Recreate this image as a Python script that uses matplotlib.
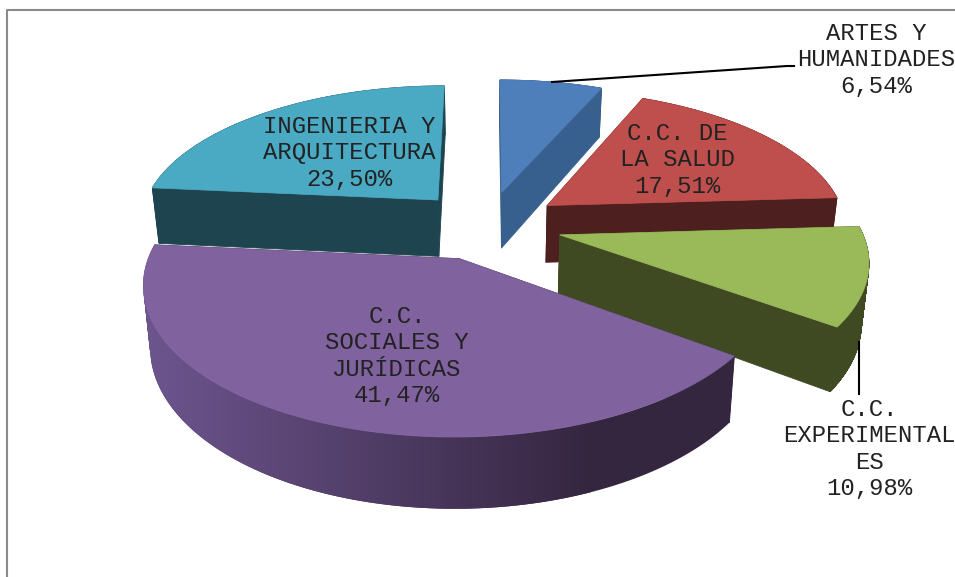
import numpy as np
import matplotlib
matplotlib.use('Agg')
import matplotlib.pyplot as plt
from matplotlib.colors import LinearSegmentedColormap
from matplotlib.patches import PathPatch
from matplotlib.path import Path

# order is clockwise from 12 o'clock, like the original pie
names = ['ARTES Y\nHUMANIDADES', 'C.C. DE\nLA SALUD', 'C.C.\nEXPERIMENTAL\nES',
         'C.C.\nSOCIALES Y\nJURÍDICAS', 'INGENIERIA Y\nARQUITECTURA']
values = [6.54, 17.51, 10.98, 41.47, 23.50]
pct_labels = ['6,54%', '17,51%', '10,98%', '41,47%', '23,50%']
top_colors = ['#4F7FBB', '#BE4F4C', '#9ABA59', '#7F629E', '#4AA9C3']
side_colors = ['#38608E', '#4E1F1F', '#404A22', '#352640', '#1E4450']
label_pos = [(876, 60), (677, 160), (869, 449), (397, 356), (349, 153)]

# camera guess for the fake 3d pie
cx, cy = 487, 225
rx, ry = 300, 139
persp = 0.155
depth = 58
explode = 0.25


def project(x, y, z=0.0):
    w = 1 + persp * y
    sx = cx + rx * x / w * (1 - 0.02 * z)
    sy = cy + (-ry * y + depth * z) / w
    return sx, sy


def rim_path(ex, ey):
    # one quad per step, all wound the same way so the overlaps don't cancel
    ux, uy = project(ex, ey)
    lx, ly = project(ex, ey, 1)
    quads = []
    for k in range(len(ex) - 1):
        q = np.array([[ux[k], uy[k]], [ux[k + 1], uy[k + 1]], [lx[k + 1], ly[k + 1]], [lx[k], ly[k]]])
        area = np.sum(q[:, 0] * np.roll(q[:, 1], -1) - np.roll(q[:, 0], -1) * q[:, 1])
        if area < 0:
            q = q[::-1]
        quads.append(Path(np.vstack([q, q[0]]), closed=True))
    return Path.make_compound_path(*quads)


fig = plt.figure(figsize=(9.55, 5.77), dpi=100)
ax = fig.add_axes([0, 0, 1, 1])
ax.axis('off')

# chart frame, only top and left show in the crop
ax.plot([6.5, 6.5, 955], [577, 9.5, 9.5], color='#8A8A8A', lw=1.5)

# slice angles
fracs = np.array(values) / sum(values) * 360
ends = 90 - np.cumsum(fracs)
starts = ends + fracs

purple_cmap = LinearSegmentedColormap.from_list('rim', ['#6E5690', side_colors[3]])

# back slices first, purple last
zo = 1
for i in [0, 1, 4, 2, 3]:
    mid = np.radians((starts[i] + ends[i]) / 2)
    ox = explode * np.cos(mid)
    oy = explode * np.sin(mid)
    t = np.radians(np.linspace(starts[i], ends[i], 120))
    ex = ox + np.cos(t)
    ey = oy + np.sin(t)

    # the two cut faces
    for k in [0, -1]:
        fx, fy = zip(project(ox, oy), project(ex[k], ey[k]),
                     project(ex[k], ey[k], 1), project(ox, oy, 1))
        ax.fill(fx, fy, facecolor=side_colors[i], edgecolor=side_colors[i], lw=0.6, zorder=zo)

    # outer rim, purple gets a left-to-right gradient through an image
    path = rim_path(ex, ey)
    if i == 3:
        # no edge here, the dark outline would show round the light end
        ax.add_patch(PathPatch(path, facecolor=side_colors[i], edgecolor='none', zorder=zo))
        grad = np.linspace(0, 1, 256).reshape(1, -1)
        im = ax.imshow(grad, extent=(135, 590, 577, 0), cmap=purple_cmap, aspect='auto', zorder=zo)
        im.set_clip_path(path, transform=ax.transData)
        # image stops at the end of the gradient, dark patch shows right of it
    else:
        ax.add_patch(PathPatch(path, facecolor=side_colors[i], edgecolor=side_colors[i], lw=0.6, zorder=zo))

    # top
    tx, ty = project(np.r_[ox, ex], np.r_[oy, ey])
    ax.fill(tx, ty, facecolor=top_colors[i], edgecolor=top_colors[i], lw=0.5, zorder=zo)
    zo += 1

# leader lines
ax.plot([552, 787, 794], [82, 66, 66], color='black', lw=1.5, zorder=zo)
ax.plot([859, 859], [342, 394], color='black', lw=1.5, zorder=zo)

for name, pct, (lx, ly) in zip(names, pct_labels, label_pos):
    ax.text(lx, ly, name + '\n' + pct, ha='center', va='center', family='Liberation Mono',
            fontsize=17.2, linespacing=1.17, color='#222222', zorder=zo + 1)

ax.set_xlim(0, 955)
ax.set_ylim(577, 0)
ax.set_aspect('auto')

fig.savefig('out.png', dpi=100)
